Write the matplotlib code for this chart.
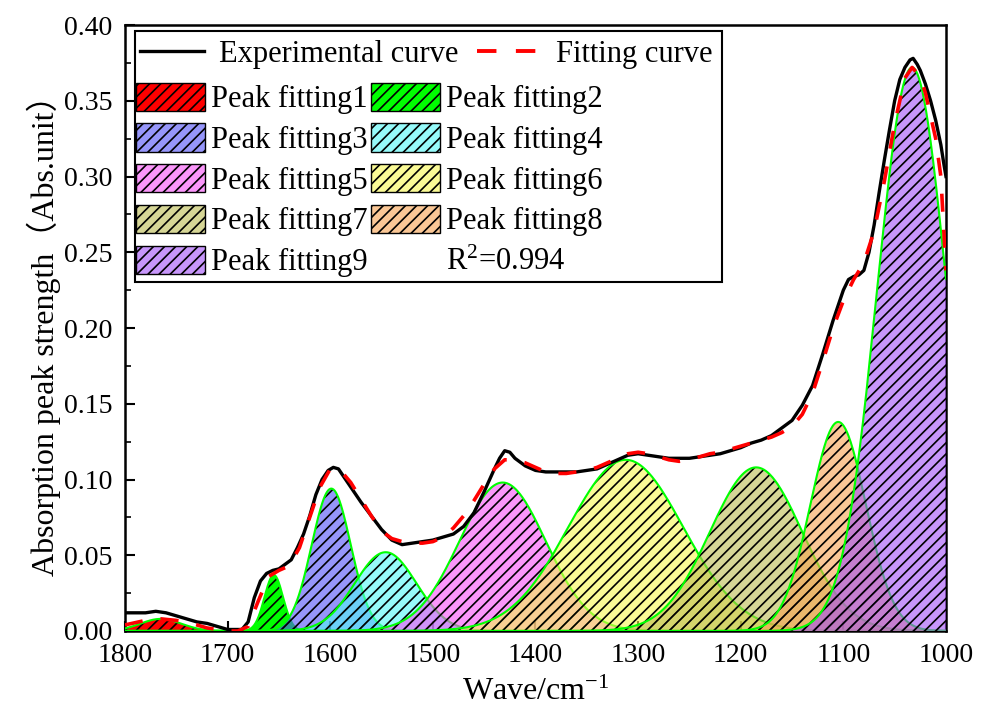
import numpy as np
import matplotlib
matplotlib.use("Agg")
import matplotlib.pyplot as plt
from matplotlib.patches import Patch, Rectangle
from matplotlib.lines import Line2D

plt.rcParams['font.family'] = ['Liberation Serif', 'Noto Sans CJK SC']
plt.rcParams['mathtext.fontset'] = 'custom'
plt.rcParams['mathtext.rm'] = 'Liberation Serif'
plt.rcParams['mathtext.it'] = 'Liberation Serif:italic'
plt.rcParams['hatch.linewidth'] = 1.2

# ---------------- data ----------------
exp_wave = [1800, 1790, 1780, 1770, 1760, 1750, 1740, 1730, 1720, 1710, 1700, 1690,
            1686, 1680, 1674, 1668, 1662, 1656, 1650, 1644, 1638, 1632, 1626, 1620,
            1614, 1608, 1602, 1597, 1592, 1586, 1580, 1570, 1560, 1550, 1540, 1530, 1520,
            1510, 1500, 1490, 1480, 1470, 1460, 1450, 1440, 1435, 1430, 1425, 1420, 1410,
            1400, 1390, 1380, 1370, 1360, 1350, 1340, 1330, 1320, 1310, 1300, 1290, 1280,
            1270, 1260, 1250, 1240, 1230, 1220, 1210, 1200, 1190, 1180, 1170, 1160, 1150,
            1140, 1130, 1120, 1110, 1100, 1095, 1090, 1085, 1080, 1075, 1070, 1065, 1060,
            1055, 1050, 1045, 1040, 1035, 1032, 1028, 1025, 1020, 1015, 1010, 1005, 1002, 1000]
exp_abs = [0.012, 0.012, 0.012, 0.013, 0.012, 0.010, 0.008, 0.006, 0.005, 0.003, 0.001, 0.001,
           0.001, 0.006, 0.022, 0.033, 0.038, 0.040, 0.041, 0.044, 0.047, 0.055, 0.064, 0.076,
           0.090, 0.100, 0.106, 0.108, 0.107, 0.101, 0.095, 0.085, 0.076, 0.067, 0.060, 0.057, 0.058,
           0.059, 0.060, 0.062, 0.064, 0.069, 0.078, 0.092, 0.107, 0.114, 0.119, 0.118, 0.114, 0.109,
           0.106, 0.105, 0.105, 0.105, 0.105, 0.106, 0.107, 0.110, 0.113, 0.116, 0.117, 0.116, 0.115,
           0.114, 0.114, 0.114, 0.115, 0.116, 0.117, 0.119, 0.121, 0.124, 0.126, 0.129, 0.134, 0.139,
           0.149, 0.162, 0.183, 0.205, 0.225, 0.232, 0.234, 0.235, 0.238, 0.250, 0.268, 0.290, 0.311,
           0.331, 0.350, 0.364, 0.372, 0.377, 0.378, 0.374, 0.370, 0.361, 0.350, 0.337, 0.321, 0.308, 0.300]

fit_wave = [1800, 1780, 1765, 1750, 1735, 1720, 1710, 1700, 1690, 1680, 1670, 1660, 1650, 1640,
            1630, 1620, 1610, 1600, 1590, 1580, 1570, 1560, 1550, 1540, 1530, 1520, 1510, 1500,
            1490, 1480, 1470, 1460, 1450, 1440, 1430, 1420, 1410, 1400, 1390, 1380, 1370, 1360,
            1350, 1340, 1330, 1320, 1310, 1300, 1290, 1280, 1270, 1260, 1250, 1240, 1230, 1220,
            1210, 1200, 1190, 1180, 1170, 1160, 1150, 1140, 1130, 1120, 1110, 1100, 1090, 1080,
            1070, 1060, 1050, 1040, 1033, 1025, 1020, 1010, 1005, 1000]
fit_abs = [0.004, 0.007, 0.008, 0.007, 0.005, 0.002, 0.001, 0.000, 0.000, 0.003, 0.020, 0.036, 0.040, 0.043,
           0.055, 0.075, 0.095, 0.107, 0.106, 0.098, 0.087, 0.076, 0.066, 0.061, 0.059, 0.058, 0.058, 0.059,
           0.062, 0.068, 0.076, 0.086, 0.097, 0.107, 0.113, 0.113, 0.111, 0.108, 0.105, 0.104, 0.104, 0.105,
           0.106, 0.108, 0.111, 0.114, 0.117, 0.118, 0.117, 0.115, 0.113, 0.112, 0.113, 0.115, 0.117, 0.118,
           0.120, 0.122, 0.124, 0.126, 0.128, 0.131, 0.135, 0.143, 0.157, 0.178, 0.200, 0.218, 0.232, 0.243,
           0.264, 0.297, 0.335, 0.365, 0.372, 0.366, 0.355, 0.325, 0.300, 0.238]

peak_labels = ['Peak fitting1', 'Peak fitting2', 'Peak fitting3', 'Peak fitting4', 'Peak fitting5',
               'Peak fitting6', 'Peak fitting7', 'Peak fitting8', 'Peak fitting9']
peak_centers = [1765, 1655, 1599, 1546, 1432, 1312, 1185, 1105, 1033]
peak_heights = [0.008, 0.037, 0.094, 0.052, 0.098, 0.113, 0.108, 0.138, 0.372]
peak_sigmas = [20, 9, 19, 30, 42, 56, 45, 27, 34]
peak_colors = ['#FF0000', '#00FF00', '#5050F7', '#50F7F7', '#F750F7',
               '#F7F750', '#BCBC50', '#F7A350', '#A350F7']
peak_alphas = [1.0, 1.0, 0.6, 0.6, 0.6, 0.6, 0.6, 0.6, 0.6]
r_squared = '0.994'

x_ticks = [1800, 1700, 1600, 1500, 1400, 1300, 1200, 1100, 1000]
y_ticks = [0.00, 0.05, 0.10, 0.15, 0.20, 0.25, 0.30, 0.35, 0.40]

# ---------------- figure ----------------
fig = plt.figure(figsize=(9.92, 7.19), dpi=100)
ax = fig.add_axes([0.126, 0.1224, 0.8276, 0.8428])

grid = np.linspace(1000, 1800, 1601)
edge_green = '#00FF00'
z = 3
for c, h, s, col, a in zip(peak_centers, peak_heights, peak_sigmas, peak_colors, peak_alphas):
    yv = h * np.exp(-(grid - c) ** 2 / (2.0 * s ** 2))
    ax.fill_between(grid, 0, yv, facecolor=matplotlib.colors.to_rgba(col, a),
                    edgecolor='none', linewidth=0, zorder=z)
    ax.fill_between(grid, 0, yv, facecolor='none', edgecolor='black', hatch='///',
                    linewidth=0, zorder=z + 0.1)
    ax.plot(grid, yv, color=edge_green, lw=1.5, zorder=z + 0.2)
    z += 0.3

ax.plot(exp_wave, exp_abs, color='black', lw=2.4, zorder=7)
ax.plot(fit_wave, fit_abs, color='#FF0000', lw=2.6, ls=(0, (5, 5)), zorder=8)

ax.set_xlim(1800, 1000)
ax.set_ylim(0, 0.40)
ax.set_xticks(x_ticks)
ax.set_xticklabels([str(t) for t in x_ticks])
ax.set_yticks(y_ticks)
ax.set_yticklabels([f'{t:.2f}' for t in y_ticks])
ax.set_yticks(np.arange(0.025, 0.40, 0.05), minor=True)
ax.tick_params(axis='both', which='major', direction='in', length=7, width=1.5,
               labelsize=20, pad=9)
ax.tick_params(axis='y', which='minor', direction='in', length=4, width=1.2)
for sp in ax.spines.values():
    sp.set_linewidth(1.8)
    sp.set_zorder(2.5)

ax.set_xlabel('Wave/cm$^{-1}$', fontsize=23, labelpad=7)
ax.set_ylabel('Absorption peak strength（Abs.unit）', fontsize=23, labelpad=2)

# ---------------- legend ----------------
frame = Rectangle((0.0122, 0.576), 0.715, 0.414, transform=ax.transAxes,
                  facecolor='white', edgecolor='black', lw=1.5, zorder=9)
ax.add_patch(frame)

legA = ax.legend(handles=[Line2D([], [], color='black', lw=2.4),
                          Line2D([], [], color='#FF0000', lw=2.8, ls=(0, (5, 5)))],
                 labels=['Experimental curve', 'Fitting curve'], ncol=2, loc='upper left',
                 bbox_to_anchor=(0.018, 0.976), frameon=False, borderpad=0, borderaxespad=0,
                 handlelength=2.1, handletextpad=0.5, columnspacing=0.6, fontsize=22)
legA.set_zorder(10)
ax.add_artist(legA)

patches = [Patch(facecolor=matplotlib.colors.to_rgba(col, a), edgecolor='black',
                 hatch='///', linewidth=1.0)
           for col, a in zip(peak_colors, peak_alphas)]
blank = Patch(facecolor='none', edgecolor='none')
order = [0, 2, 4, 6, 8, 1, 3, 5, 7]
handles = [patches[i] for i in order] + [blank]
labels = [peak_labels[i] for i in order] + ['R$^2$=' + r_squared]
legB = ax.legend(handles=handles, labels=labels, ncol=2, loc='upper left',
                 bbox_to_anchor=(0.014, 0.905), frameon=False, borderpad=0, borderaxespad=0,
                 handlelength=2.25, handleheight=1.05, handletextpad=0.2,
                 labelspacing=0.3, columnspacing=0.1, fontsize=22)
legB.set_zorder(10)

fig.savefig('out.png', dpi=100)
